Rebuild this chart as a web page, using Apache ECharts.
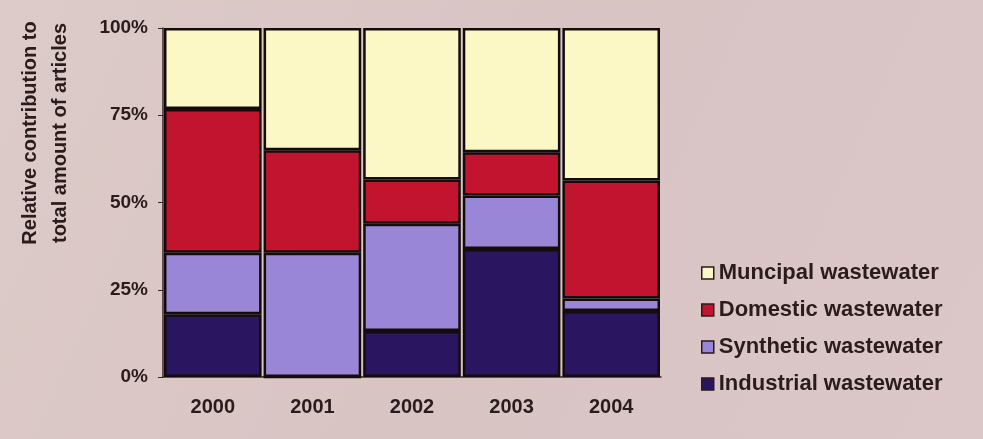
<!DOCTYPE html>
<html>
<head>
<meta charset="utf-8">
<title>Relative contribution of wastewater types</title>
<script src="https://cdn.jsdelivr.net/npm/echarts@6/dist/echarts.min.js"></script>
<style>
  html, body { margin: 0; padding: 0; }
  #chart { width: 983px; height: 439px; }
</style>
</head>
<body>
<div id="chart"></div>
<script>
// data (percent of articles per year)
const years = ['2000', '2001', '2002', '2003', '2004']
const industrial = [18.0, 0, 13.2, 36.7, 18.9]
const synthetic = [17.6, 35.6, 30.7, 15.3, 3.6]
const domestic = [41.2, 29.4, 12.7, 12.4, 33.8]
const municipal = [23.2, 35.0, 43.4, 35.6, 43.7]
const yTicks = [0, 25, 50, 75, 100]

const fontFamily = '"Liberation Sans", Arial, sans-serif'
const textColor = '#2a1c1c'

const chart = echarts.init(document.getElementById('chart'))

function barSeries(name, data, color) {
  return {
    name: name,
    type: 'bar',
    stack: 'total',
    data: data,
    barCategoryGap: '2%',
    itemStyle: {
      color: color,
      borderColor: '#140c0c',
      borderWidth: 2.5
    },
    emphasis: { disabled: true }
  }
}

const option = {
  backgroundColor: new echarts.graphic.LinearGradient(0, 0, 1, 1, [
    { offset: 0, color: '#dccbc8' },
    { offset: 0.5, color: '#d9c4c4' },
    { offset: 1, color: '#dbc7c8' }
  ]),
  animation: false,
  textStyle: { fontFamily: fontFamily },
  grid: {
    left: 163,
    right: 322,
    top: 28,
    bottom: 62
  },
  legend: {
    orient: 'vertical',
    left: 696,
    top: 257,
    itemWidth: 12,
    itemHeight: 12,
    itemGap: 15,
    icon: 'rect',
    data: ['Muncipal wastewater', 'Domestic wastewater', 'Synthetic wastewater', 'Industrial wastewater'],
    itemStyle: { borderColor: '#2a1a1a', borderWidth: 1.5 },
    textStyle: {
      fontSize: 22,
      fontWeight: 'bold',
      color: textColor,
      fontFamily: fontFamily
    },
    selectedMode: false
  },
  graphic: [
    {
      type: 'text',
      x: 15,
      y: 133,
      rotation: Math.PI / 2,
      style: {
        text: 'Relative contribution to\ntotal amount of articles',
        font: 'bold 20px "Liberation Sans", Arial, sans-serif',
        fill: textColor,
        align: 'center',
        verticalAlign: 'top',
        lineHeight: 30
      }
    }
  ],
  xAxis: {
    type: 'category',
    data: years,
    axisLine: { lineStyle: { color: '#3a2626', width: 1.5 } },
    axisTick: { length: 4, lineStyle: { color: '#3a2626' } },
    axisLabel: {
      fontSize: 20,
      fontWeight: 'bold',
      color: textColor,
      margin: 20
    }
  },
  yAxis: {
    type: 'value',
    min: yTicks[0],
    max: yTicks[yTicks.length - 1],
    interval: 25,
    axisLine: { show: true, lineStyle: { color: '#3a2626', width: 1.5 } },
    axisTick: { show: true, length: 5, lineStyle: { color: '#3a2626' } },
    splitLine: { show: false },
    axisLabel: {
      fontSize: 19,
      fontWeight: 'bold',
      color: textColor,
      margin: 15,
      formatter: '{value}%'
    }
  },
  series: [
    barSeries('Industrial wastewater', industrial, '#2a1660'),
    barSeries('Synthetic wastewater', synthetic, '#9a86d6'),
    barSeries('Domestic wastewater', domestic, '#c2142e'),
    barSeries('Muncipal wastewater', municipal, '#fcf8c6')
  ]
}

chart.setOption(option)
</script>
</body>
</html>
